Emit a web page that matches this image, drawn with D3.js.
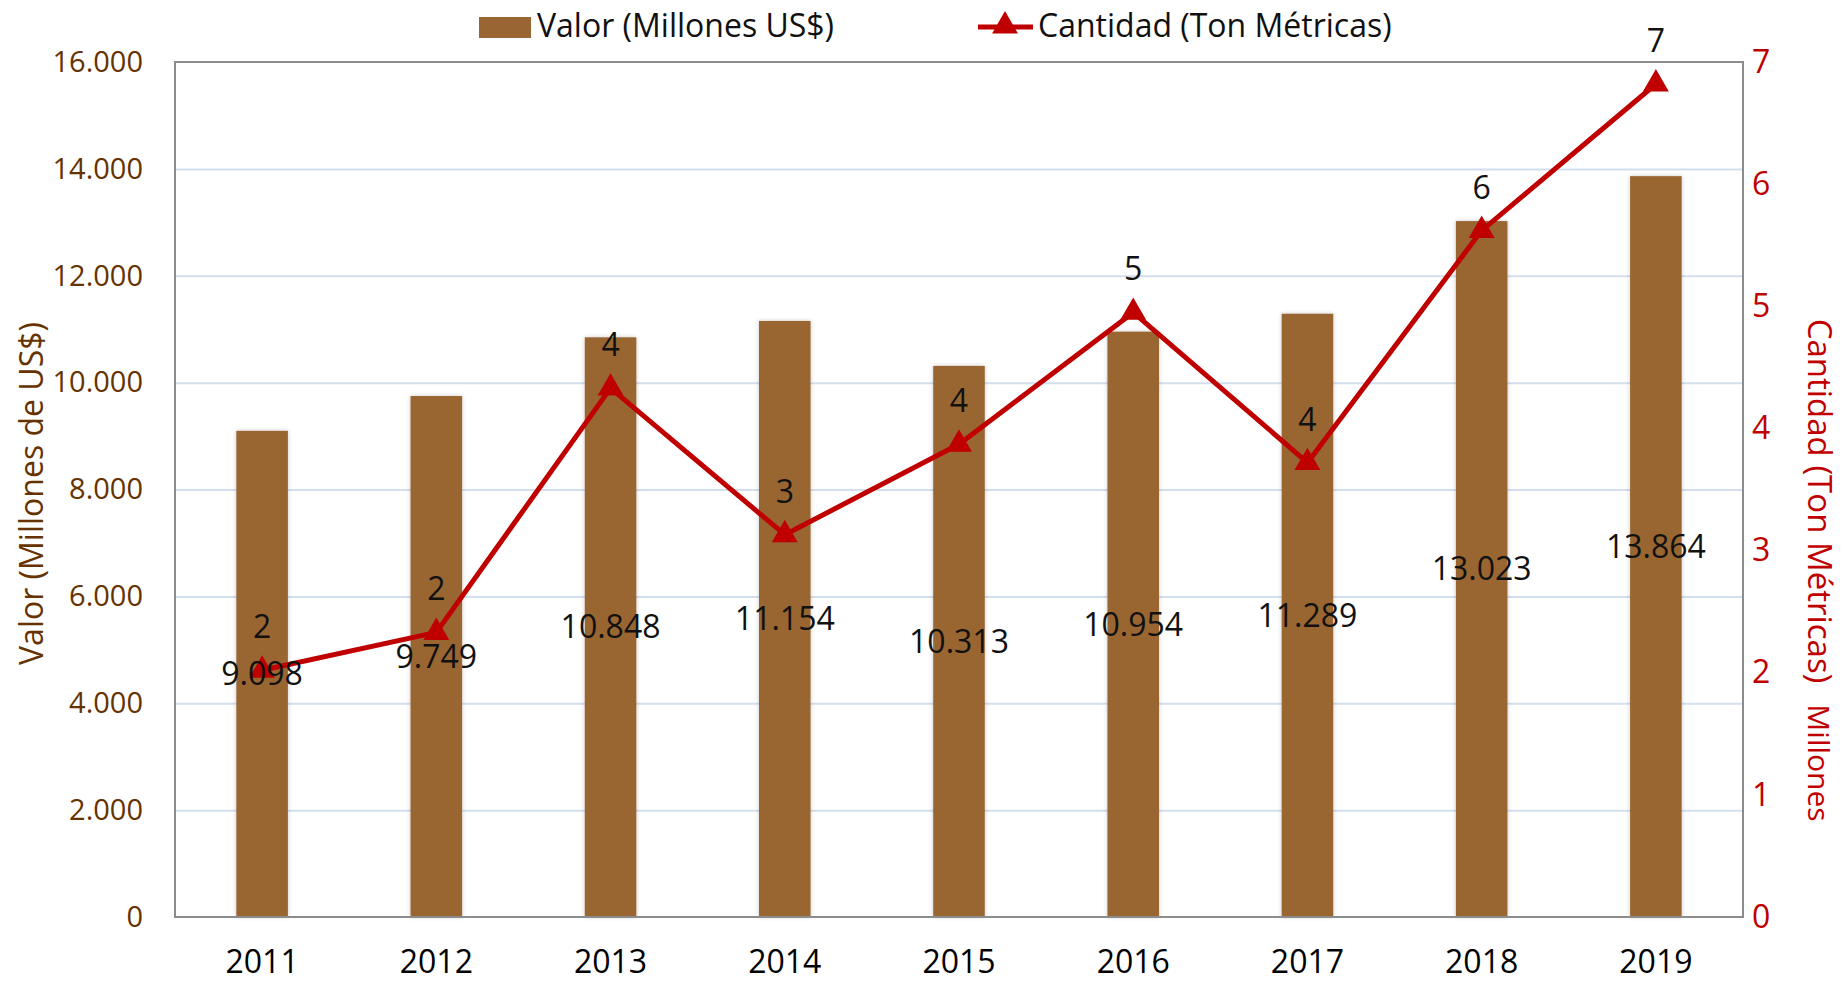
<!DOCTYPE html>
<html>
<head>
<meta charset="utf-8">
<script src="https://cdn.jsdelivr.net/npm/d3@7"></script>
<style>
    body { margin: 0; background: #fff; }
    svg text { font-family: "Open Sans", "Noto Sans", sans-serif; }
</style>
</head>
<body>
<svg id="chart"></svg>
<script>
// data
const years = ["2011", "2012", "2013", "2014", "2015", "2016", "2017", "2018", "2019"];
const valor = [9098, 9749, 10848, 11154, 10313, 10954, 11289, 13023, 13864];      // Millones US$
const cantidad = [2.02, 2.33, 4.33, 3.13, 3.87, 4.95, 3.72, 5.62, 6.82];          // Millones de Ton
const valorTicks = [0, 2000, 4000, 6000, 8000, 10000, 12000, 14000, 16000];
const cantidadTicks = [0, 1, 2, 3, 4, 5, 6, 7];

const BROWN = "#996633";
const BROWN_TEXT = "#663300";
const RED = "#C00000";

const locale = d3.formatLocale({ decimal: ",", thousands: ".", grouping: [3], currency: ["$", ""] });
const fmtThousands = locale.format(",d");

class ComboChart {

    margin = {
        top: 62, right: 102, bottom: 65, left: 175
    }

    constructor(selector) {
        this.selector = selector;
        this.totalWidth = 1845;
        this.totalHeight = 982;
        this.width = this.totalWidth - this.margin.left - this.margin.right;
        this.height = this.totalHeight - this.margin.top - this.margin.bottom;
    }

    initialize() {
        this.svg = d3.select(this.selector)
            .attr("width", this.totalWidth)
            .attr("height", this.totalHeight);

        const defs = this.svg.append("defs");
        defs.append("filter")
            .attr("id", "barShadow")
            .attr("x", "-20%").attr("y", "-5%").attr("width", "140%").attr("height", "110%")
            .append("feDropShadow")
            .attr("dx", 0).attr("dy", 0).attr("stdDeviation", 2)
            .attr("flood-color", "#000").attr("flood-opacity", 0.22);

        this.container = this.svg.append("g")
            .attr("transform", `translate(${this.margin.left}, ${this.margin.top})`);

        this.xScale = d3.scaleBand()
            .domain(years)
            .range([0, this.width])
            .paddingInner(0.704)
            .paddingOuter(0.352);
        this.yLeft = d3.scaleLinear().domain([0, 16000]).range([this.height, 0]);
        this.yRight = d3.scaleLinear().domain([0, 7]).range([this.height, 0]);

        this.drawGrid();
        this.drawBars();
        this.drawLine();
        this.drawLabels();
        this.drawAxes();
        this.drawLegend();
    }

    cx(year) {
        return this.xScale(year) + this.xScale.bandwidth() / 2;
    }

    drawGrid() {
        const grid = this.container.append("g")
            .call(d3.axisLeft(this.yLeft)
                .tickValues(valorTicks.filter(t => t > 0 && t < 16000))
                .tickSize(-this.width)
                .tickFormat(""));
        grid.select(".domain").remove();
        grid.selectAll(".tick line")
            .attr("stroke", "#D3DFEE")
            .attr("stroke-width", 2);

        // plot area border
        this.container.append("rect")
            .attr("x", 0).attr("y", 0)
            .attr("width", this.width).attr("height", this.height)
            .attr("fill", "none")
            .attr("stroke", "#8C8C8C")
            .attr("stroke-width", 2);
    }

    drawBars() {
        const data = years.map((y, i) => ({ year: y, value: valor[i] }));
        this.container.append("g")
            .selectAll("rect")
            .data(data)
            .join("rect")
            .attr("x", d => this.xScale(d.year))
            .attr("y", d => this.yLeft(d.value))
            .attr("width", this.xScale.bandwidth())
            .attr("height", d => this.height - this.yLeft(d.value))
            .attr("fill", BROWN)
            .attr("filter", "url(#barShadow)");

        // redraw baseline over bars
        this.container.append("line")
            .attr("x1", 0).attr("x2", this.width)
            .attr("y1", this.height).attr("y2", this.height)
            .attr("stroke", "#8C8C8C")
            .attr("stroke-width", 2);
    }

    drawLine() {
        const data = years.map((y, i) => ({ year: y, value: cantidad[i] }));
        const line = d3.line()
            .x(d => this.cx(d.year))
            .y(d => this.yRight(d.value));

        this.container.append("path")
            .datum(data)
            .attr("d", line)
            .attr("fill", "none")
            .attr("stroke", RED)
            .attr("stroke-width", 5)
            .attr("stroke-linejoin", "round");

        this.container.append("g")
            .selectAll("path")
            .data(data)
            .join("path")
            .attr("transform", d => `translate(${this.cx(d.year)}, ${this.yRight(d.value)})`)
            .attr("d", d3.symbol(d3.symbolTriangle, 290))
            .attr("fill", RED);
    }

    drawLabels() {
        // bar labels sit at half the bar height
        this.container.append("g")
            .selectAll("text")
            .data(years.map((y, i) => ({ year: y, value: valor[i] })))
            .join("text")
            .attr("x", d => this.cx(d.year))
            .attr("y", d => (this.yLeft(d.value) + this.yLeft(0)) / 2)
            .attr("dy", "0.35em")
            .attr("text-anchor", "middle")
            .attr("font-size", 32)
            .attr("fill", "#111")
            .text(d => fmtThousands(d.value));

        // line labels above the markers
        this.container.append("g")
            .selectAll("text")
            .data(years.map((y, i) => ({ year: y, value: cantidad[i] })))
            .join("text")
            .attr("x", d => this.cx(d.year))
            .attr("y", d => this.yRight(d.value) - 32)
            .attr("text-anchor", "middle")
            .attr("font-size", 32)
            .attr("fill", "#111")
            .text(d => d3.format(".0f")(d.value));
    }

    drawAxes() {
        const xAxis = this.container.append("g")
            .attr("transform", `translate(0, ${this.height})`)
            .call(d3.axisBottom(this.xScale).tickSize(0).tickPadding(33));
        xAxis.select(".domain").remove();
        xAxis.selectAll("text")
            .attr("font-size", 32)
            .attr("font-family", null)
            .attr("fill", "#000");

        const leftAxis = this.container.append("g")
            .call(d3.axisLeft(this.yLeft)
                .tickValues(valorTicks)
                .tickFormat(fmtThousands)
                .tickSize(0)
                .tickPadding(32));
        leftAxis.select(".domain").remove();
        leftAxis.selectAll("text")
            .attr("font-size", 29)
            .attr("font-family", null)
            .attr("fill", BROWN_TEXT);

        const rightAxis = this.container.append("g")
            .attr("transform", `translate(${this.width}, 0)`)
            .call(d3.axisRight(this.yRight)
                .tickValues(cantidadTicks)
                .tickFormat(d3.format("d"))
                .tickSize(0)
                .tickPadding(9));
        rightAxis.select(".domain").remove();
        rightAxis.selectAll("text")
            .attr("font-size", 32)
            .attr("font-family", null)
            .attr("fill", RED);

        // axis titles
        this.svg.append("text")
            .attr("transform", `translate(32, ${this.margin.top + this.height / 2 + 4}) rotate(-90)`)
            .attr("dy", "0.35em")
            .attr("text-anchor", "middle")
            .attr("font-size", 32)
            .attr("fill", BROWN_TEXT)
            .text("Valor (Millones de US$)");

        // rotated 90deg: the baseline sits at x, glyphs rise to the right
        this.svg.append("text")
            .attr("transform", "translate(1808, 501) rotate(90)")
            .attr("text-anchor", "middle")
            .attr("font-size", 33)
            .attr("fill", RED)
            .text("Cantidad (Ton Métricas)");

        this.svg.append("text")
            .attr("transform", "translate(1808, 763) rotate(90)")
            .attr("text-anchor", "middle")
            .attr("font-size", 30)
            .attr("fill", RED)
            .text("Millones");
    }

    drawLegend() {
        const legend = this.svg.append("g");

        legend.append("rect")
            .attr("x", 479).attr("y", 17)
            .attr("width", 52).attr("height", 21)
            .attr("fill", BROWN);
        legend.append("text")
            .attr("x", 537).attr("y", 37)
            .attr("font-size", 32)
            .attr("fill", "#111")
            .text("Valor (Millones US$)");

        legend.append("line")
            .attr("x1", 978).attr("x2", 1033)
            .attr("y1", 27).attr("y2", 27)
            .attr("stroke", RED)
            .attr("stroke-width", 5);
        legend.append("path")
            .attr("transform", "translate(1005, 26)")
            .attr("d", d3.symbol(d3.symbolTriangle, 290))
            .attr("fill", RED);
        legend.append("text")
            .attr("x", 1038).attr("y", 37)
            .attr("font-size", 32)
            .attr("fill", "#111")
            .text("Cantidad (Ton Métricas)");
    }
}

const chart = new ComboChart("#chart");
chart.initialize();
</script>
</body>
</html>
